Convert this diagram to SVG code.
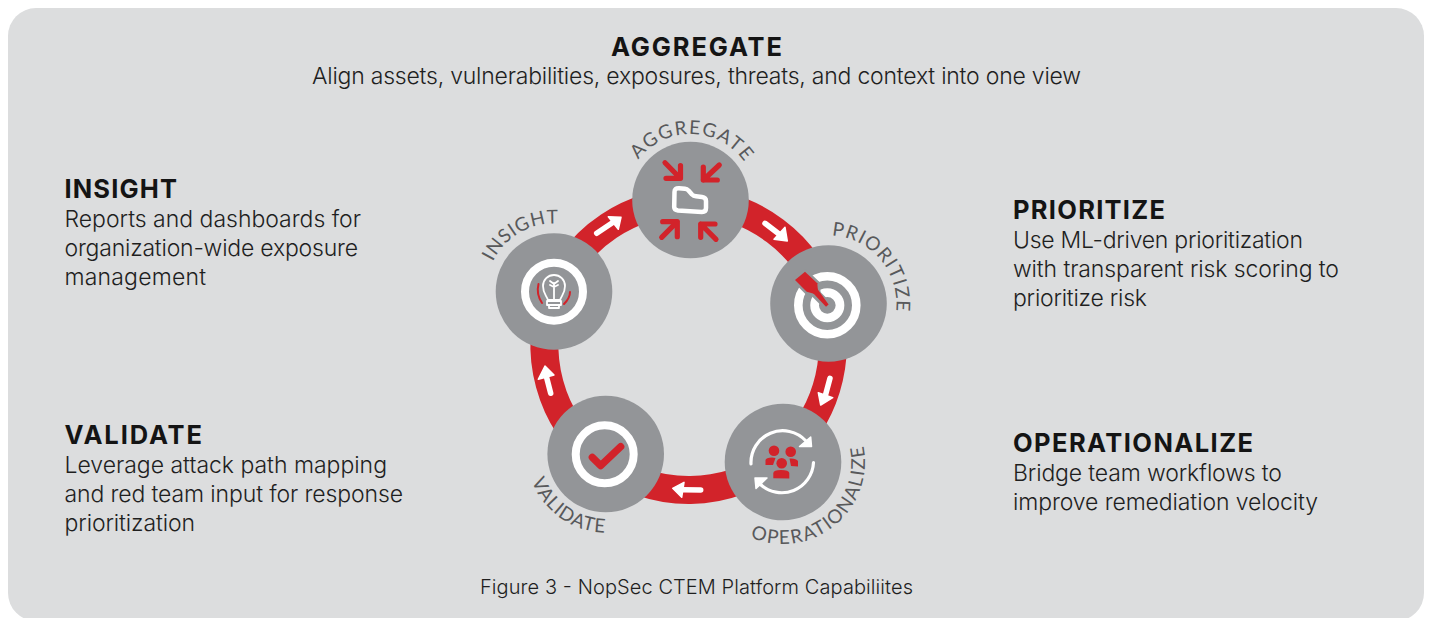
<svg xmlns="http://www.w3.org/2000/svg" width="1429" height="618" viewBox="0 0 1429 618">
<style>
.h{font-family:Inter,"Liberation Sans",sans-serif;font-weight:700;font-size:25.5px;fill:#141414}
.b{font-family:Inter,"Liberation Sans",sans-serif;font-weight:300;font-size:23px;fill:#1f1f1f}
.c{font-size:20px}
.l{font-family:Lato,"Liberation Sans",sans-serif;font-size:19px;fill:#58595b;text-anchor:middle}
.disc{fill:#939598}
.seg{fill:none;stroke:#d2232a;stroke-width:28}
.sh{fill:none;stroke:#fff;stroke-width:5.5;stroke-linecap:round}
.hd{fill:#fff;stroke:#fff;stroke-width:1.5;stroke-linejoin:round}
.ring{fill:none;stroke:#fff;stroke-width:8}
.w{fill:none;stroke:#fff;stroke-linecap:round;stroke-linejoin:round}
.r{fill:none;stroke:#d2232a;stroke-linecap:round;stroke-linejoin:round}
.rf{fill:#d2232a}
</style>
<defs>
<path id="pa" d="M624.5 200A66 66 0 0 1 756.5 200"/>
<path id="pp" d="M784.8 251.4A68 68 0 0 1 872.2 355.6"/>
<path id="po" d="M711.6 502.4A82 82 0 1 0 836.3 399.7"/>
<path id="pv" d="M540.2 408.1A80 80 0 0 0 671.2 499.9"/>
<path id="pi" d="M486 291.5A68 68 0 0 1 588 232.6"/>
</defs>
<rect x="8" y="8" width="1416" height="613" rx="28" fill="#dcddde"/>

<g id="texts">
<text class="h" x="611" y="56" textLength="171" lengthAdjust="spacing">AGGREGATE</text>
<text class="b" x="312" y="84" textLength="769" lengthAdjust="spacing">Align assets, vulnerabilities, exposures, threats, and context into one view</text>
<text class="h" x="64.5" y="198" textLength="112.5" lengthAdjust="spacing">INSIGHT</text>
<text class="b" x="64.5" y="226.5" textLength="296.5" lengthAdjust="spacing">Reports and dashboards for</text>
<text class="b" x="64.5" y="255.5" textLength="293.5" lengthAdjust="spacing">organization-wide exposure</text>
<text class="b" x="64.5" y="284.5" textLength="141.5" lengthAdjust="spacing">management</text>
<text class="h" x="64.5" y="444" textLength="137.5" lengthAdjust="spacing">VALIDATE</text>
<text class="b" x="64.5" y="472.5" textLength="322.5" lengthAdjust="spacing">Leverage attack path mapping</text>
<text class="b" x="64.5" y="501.5" textLength="338.5" lengthAdjust="spacing">and red team input for response</text>
<text class="b" x="64.5" y="530.5" textLength="130.5" lengthAdjust="spacing">prioritization</text>
<text class="h" x="1013" y="219" textLength="152" lengthAdjust="spacing">PRIORITIZE</text>
<text class="b" x="1013" y="248" textLength="290" lengthAdjust="spacing">Use ML-driven prioritization</text>
<text class="b" x="1013" y="277" textLength="326" lengthAdjust="spacing">with transparent risk scoring to</text>
<text class="b" x="1013" y="306" textLength="134" lengthAdjust="spacing">prioritize risk</text>
<text class="h" x="1013" y="452" textLength="240" lengthAdjust="spacing">OPERATIONALIZE</text>
<text class="b" x="1013" y="481" textLength="269" lengthAdjust="spacing">Bridge team workflows to</text>
<text class="b" x="1013" y="510" textLength="305" lengthAdjust="spacing">improve remediation velocity</text>
<text class="b c" x="480" y="594" textLength="433" lengthAdjust="spacing">Figure 3 - NopSec CTEM Platform Capabiliites</text>
</g>

<g id="connectors">
<path class="seg" d="M555.1 292A144 144 0 0 1 690.4 202"/>
<path class="seg" d="M690.4 202A144 144 0 0 1 826.4 304.1"/>
<path class="seg" d="M826.4 304.1A144 144 0 0 1 779.5 457.7"/>
<path class="seg" d="M779.5 457.7A144 144 0 0 1 600.8 460.2"/>
<path class="seg" d="M600.8 460.2A144 144 0 0 1 555.1 292"/>
<path class="sh" d="M596.7 233.3L612 223"/><polygon class="hd" points="621,217.3 608.3,216.7 618.3,229.3"/>
<path class="sh" d="M765 223.3L779 234"/><polygon class="hd" points="787.3,241 785,227.3 774,239.3"/>
<path class="sh" d="M830 378.3L825.5 395"/><polygon class="hd" points="820.7,405 818.3,392.7 832.7,397.7"/>
<path class="sh" d="M700.7 490L683 489.8"/><polygon class="hd" points="672.7,488.3 684,482.3 681.7,497.3"/>
<path class="sh" d="M550.7 393.3L546.5 377"/><polygon class="hd" points="545,366 538.3,379.3 554,375"/>
</g>

<g id="node-aggregate">
<circle class="disc" cx="690.5" cy="200" r="58.3"/>
<path class="w" stroke-width="4.5" d="M679 188.3L685 188.8Q687 189 688.5 190.5L692 194.5Q693.5 196 696 196.3L702 197Q706 197.5 706 201L706 208Q706 212 702 212L678 210.5Q674.2 210 674.2 207L674.5 192Q674.5 188 679 188.3Z"/>
<g class="r" stroke-width="5.2">
<path d="M665 162.7L680 178M680.5 165.5L680.5 178.3L666 178.3"/>
<path d="M719.3 165L703.3 180M703.3 167L703.3 180L717.3 180"/>
<path d="M661.7 237.3L677.3 221.7M662.7 221.7L677.3 221.7L677.3 236.7"/>
<path d="M716 239.3L700.7 224M715 224L700.7 224L700.7 237.3"/>
</g>
<text class="l"><textPath href="#pa" startOffset="51%" letter-spacing="1.6">AGGREGATE</textPath></text>
</g>

<g id="node-prioritize">
<circle class="disc" cx="828.5" cy="303.5" r="58.3"/>
<circle cx="827.3" cy="305.3" r="29" fill="none" stroke="#fff" stroke-width="8.6"/>
<circle cx="827.3" cy="305.3" r="12.7" fill="none" stroke="#fff" stroke-width="8.7"/>
<path d="M828 306L806 284" fill="none" stroke="#939598" stroke-width="9"/>
<polygon points="795,280 805,271.7 817.3,283.3 818.3,295 806.7,291.7" fill="#939598" stroke="#939598" stroke-width="5" stroke-linejoin="round"/>
<polygon class="rf" points="795,280 805,271.7 817.3,283.3 818.3,295 806.7,291.7"/>
<polygon class="rf" points="816,287 812,292 826,306.8 828.6,304.6"/>
<text class="l"><textPath href="#pp" startOffset="50%" letter-spacing="1.2">PRIORITIZE</textPath></text>
</g>

<g id="node-operationalize">
<circle class="disc" cx="783" cy="462" r="58.3"/>
<path class="w" stroke-width="3.2" d="M751 464A31.7 31.7 0 0 1 806 441"/>
<polygon class="hd" points="811.5,446.5 799.5,446.5 810.7,437"/>
<path class="w" stroke-width="3.2" d="M813.5 462.5A31.7 31.7 0 0 1 760 484"/>
<polygon class="hd" points="755,478 767,478 756,488.5"/>
<g class="rf">
<circle cx="774" cy="450.7" r="5.3"/><circle cx="790.7" cy="451.7" r="5.3"/><circle cx="781.7" cy="463.3" r="5.3"/>
<path d="M773.3 478.3V473Q773.5 470 781 470Q789 470 789.3 473V478.5Z"/>
<path d="M765.5 465V460Q766 457.5 772 457.5L775.5 458L773 465Z"/>
<path d="M789.5 458.5Q796 458 798 461V466.5L791 466L790 461Z"/>
</g>
<text class="l"><textPath href="#po" startOffset="50%" letter-spacing="1.6">OPERATIONALIZE</textPath></text>
</g>

<g id="node-validate">
<circle class="disc" cx="605.7" cy="454" r="58.3"/>
<circle class="ring" cx="604.7" cy="454.3" r="29"/>
<path class="r" stroke-width="7.3" d="M592.3 457.3L600.7 465.7L620.7 446.7"/>
<text class="l"><textPath href="#pv" startOffset="50%" letter-spacing="1">VALIDATE</textPath></text>
</g>

<g id="node-insight">
<circle class="disc" cx="554" cy="291.5" r="58.3"/>
<circle class="ring" cx="554" cy="291.7" r="29"/>
<path class="w" stroke-width="1.8" d="M548 300C546 295 543 293 543 286A11 11 0 0 1 565 286C565 293 562 295 560 300ZM547 301H561V305H547ZM549 305H559V308H549ZM554 300V283M550 281L554 284L558 281M550 285L554 287L558 285"/>
<path class="r" stroke-width="2" d="M538.5 284Q536 294 542 303M570 292Q570 298 564 304"/>
<text class="l"><textPath href="#pi" startOffset="50%" letter-spacing="0.8">INSIGHT</textPath></text>
</g>
</svg>
